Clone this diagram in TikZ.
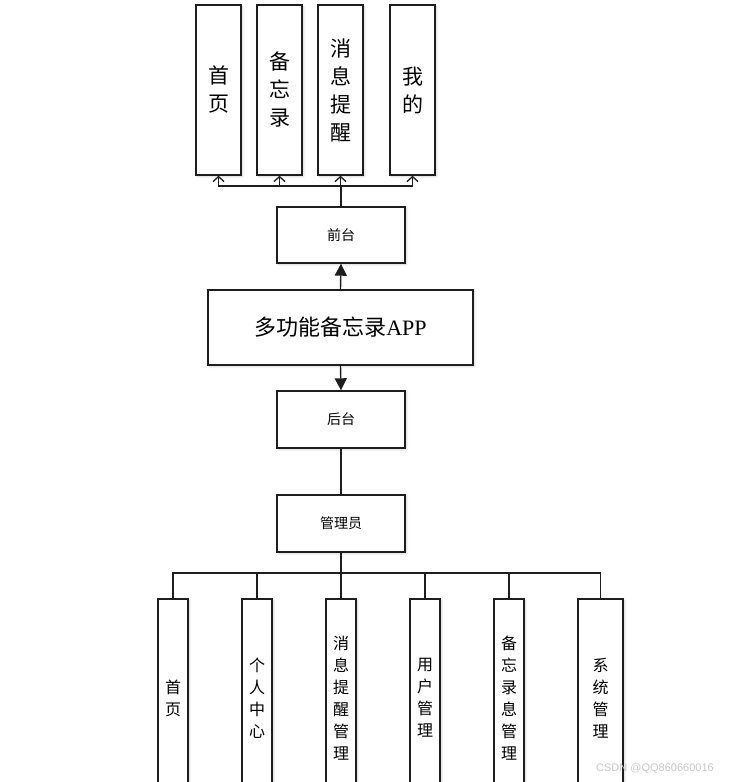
\documentclass[tikz,border=0pt]{standalone}
\usepackage{fontspec}
\usetikzlibrary{arrows.meta,shadows.blur}
\setmainfont{Liberation Serif}
\newfontfamily\cjk{Noto Sans CJK SC}
\newfontfamily\wmfont{Liberation Sans}
\definecolor{ink}{HTML}{1E1E1E}
\definecolor{wmgrey}{HTML}{C8C8C8}
\newcommand{\tall}{\cjk\fontsize{21}{28}\selectfont}
\newcommand{\lbl}{\cjk\fontsize{14}{18}\selectfont}
\newcommand{\colf}{\cjk\fontsize{16}{22}\selectfont}
\newcommand{\titl}{\fontsize{22}{26}\selectfont}
\tikzset{
  box/.style={draw=ink,line width=1.4pt,fill=white,inner sep=0,align=center,
    blur shadow={shadow xshift=1.5pt,shadow yshift=-1.5pt,shadow opacity=20,shadow blur radius=2pt}},
  conn/.style={draw=ink,line width=1.4pt},
  open/.style={-{Straight Barb[length=5pt,width=11pt,line width=1.3pt]}},
  solid/.style={-{Triangle[length=12pt,width=12pt]}}
}
\begin{document}
\begin{tikzpicture}[x=1pt,y=-1pt]
\useasboundingbox (0,0) rectangle (740,782);
\clip (0,0) rectangle (740,782);
% front end
\node[box,minimum width=45,minimum height=170,font=\tall] (fp) at (218.5,90) {首\\页};
\node[box,minimum width=45,minimum height=170,font=\tall] (bwl) at (279.5,90) {备\\忘\\录};
\node[box,minimum width=45,minimum height=170,font=\tall] (xx) at (340.5,90) {消\\息\\提\\醒};
\node[box,minimum width=45,minimum height=170,font=\tall] (wd) at (412.5,90) {我\\的};
\node[box,minimum width=128,minimum height=56,font=\lbl] (qt) at (341,235) {前台};
\node[box,minimum width=265,minimum height=75,font=\titl] (app) at (340.5,327.5) {{\cjk 多功能备忘录}APP};
\node[box,minimum width=128,minimum height=57,font=\lbl] (ht) at (341,419.5) {后台};
\node[box,minimum width=128,minimum height=57,font=\lbl] (gly) at (341,523.5) {管理员};
% admin modules
\node[box,minimum width=30,minimum height=198,font=\colf] (m1) at (173,698) {首\\页};
\node[box,minimum width=30,minimum height=198,font=\colf] (m2) at (257,698) {个\\人\\中\\心};
\node[box,minimum width=30,minimum height=198,font=\colf] (m3) at (341,698) {消\\息\\提\\醒\\管\\理};
\node[box,minimum width=30,minimum height=198,font=\colf] (m4) at (425,698) {用\\户\\管\\理};
\node[box,minimum width=30,minimum height=198,font=\colf] (m5) at (509,698) {备\\忘\\录\\息\\管\\理};
\node[box,minimum width=45,minimum height=198,font=\colf] (m6) at (600.5,698) {系\\统\\管\\理};
% connectors
\coordinate (tbus) at (341,186);
\draw[conn] (qt.north) -- (tbus);
\foreach \n in {fp,bwl,xx,wd}
  \draw[conn,open] (tbus) -| (\n.south);
\draw[conn,solid] (app.north) -- (qt.south);
\draw[conn,solid] (app.south) -- (ht.north);
\draw[conn] (ht.south) -- (gly.north);
\coordinate (bbus) at (341,573);
\draw[conn] (gly.south) -- (bbus);
\foreach \n in {m1,m2,m3,m4,m5,m6}
  \draw[conn] (bbus) -| (\n.north);
\node[anchor=west,inner sep=0,text=wmgrey,font=\wmfont\fontsize{11}{13}\selectfont] (mark) at (596,769) {CSDN @QQ860660016};
\end{tikzpicture}
\end{document}
